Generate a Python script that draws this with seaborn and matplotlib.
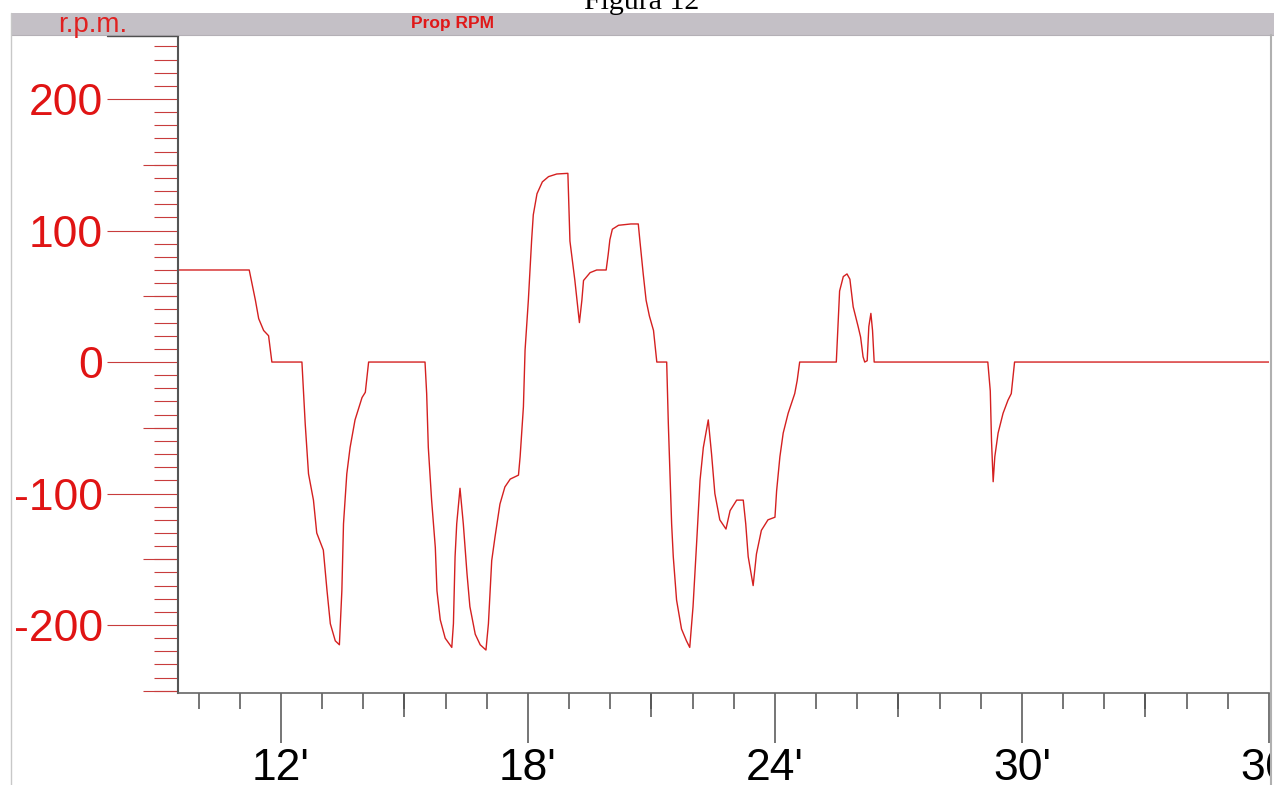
import matplotlib
matplotlib.use("Agg")
import matplotlib.pyplot as plt
from matplotlib.patches import Rectangle
from matplotlib.lines import Line2D
from matplotlib.ticker import MultipleLocator, FixedLocator
import seaborn as sns
import pandas as pd

# Propeller speed over time (minutes, r.p.m.)
minutes = [
    9.5, 11.23, 11.38, 11.46, 11.58, 11.70, 11.78, 12.51, 12.59, 12.67,
    12.79, 12.87, 13.03, 13.12, 13.20, 13.32, 13.42, 13.48, 13.52, 13.60,
    13.68, 13.80, 13.97, 14.05, 14.13, 15.50, 15.54, 15.58, 15.66, 15.75,
    15.79, 15.87, 15.99, 16.15, 16.19, 16.23, 16.27, 16.35, 16.43, 16.52,
    16.59, 16.72, 16.84, 16.98, 17.04, 17.12, 17.20, 17.32, 17.44, 17.57,
    17.77, 17.81, 17.89, 17.93, 18.01, 18.09, 18.13, 18.22, 18.35, 18.50,
    18.70, 18.97, 19.02, 19.14, 19.25, 19.31, 19.35, 19.51, 19.67, 19.90,
    19.95, 19.99, 20.05, 20.20, 20.50, 20.68, 20.72, 20.80, 20.87, 20.95,
    21.05, 21.13, 21.37, 21.41, 21.45, 21.49, 21.53, 21.61, 21.73, 21.85,
    21.93, 22.01, 22.10, 22.18, 22.26, 22.38, 22.46, 22.54, 22.66, 22.81,
    22.91, 23.07, 23.23, 23.29, 23.35, 23.47, 23.55, 23.67, 23.83, 24.00,
    24.04, 24.12, 24.20, 24.32, 24.48, 24.54, 24.60, 25.49, 25.57, 25.66,
    25.75, 25.82, 25.90, 26.02, 26.08, 26.14, 26.18, 26.24, 26.28, 26.33,
    26.37, 26.41, 29.17, 29.23, 29.26, 29.30, 29.34, 29.42, 29.54, 29.66,
    29.74, 29.82, 36.0,
]
prop_rpm = [
    70, 70, 47, 33, 24, 20, 0, 0, -47, -85,
    -105, -130, -143, -174, -199, -212, -215, -174, -123, -85,
    -65, -44, -27, -23, 0, 0, -24, -65, -105, -141,
    -174, -196, -210, -217, -199, -148, -123, -96, -123, -161,
    -186, -207, -215, -219, -199, -151, -133, -108, -95, -89,
    -86, -72, -34, 9, 47, 93, 112, 128, 137, 141,
    143, 143.5, 92, 62, 30, 47, 62, 68, 70, 70,
    82, 93, 101, 104, 105, 105, 92, 67, 47, 35,
    24, 0, 0, -47, -85, -123, -148, -181, -203, -212,
    -217, -186, -136, -90, -65, -44, -70, -100, -120, -127,
    -113, -105, -105, -123, -148, -170, -146, -128, -120, -118,
    -98, -72, -54, -39, -24, -14, 0, 0, 54, 65,
    67, 63, 42, 27, 19, 4, 0, 1, 27, 37,
    24, 0, 0, -22, -60, -91, -72, -54, -39, -29,
    -24, 0, 0,
]

y_major = [-200, -100, 0, 100, 200]
y_major_labels = ["-200", "-100", "0", "100", "200"]
y_mid = [-250, -150, -50, 50, 150]
x_major = [12, 18, 24, 30, 36]
x_major_labels = ["12'", "18'", "24'", "30'", "36'"]
x_mid = [15, 21, 27, 33]

sns.set_style("white")
plt.rcParams["font.family"] = ["Liberation Sans", "DejaVu Sans"]

W, H = 1274, 785
fig = plt.figure(figsize=(W / 100, H / 100), dpi=100)
fig.patch.set_facecolor("white")

ax_left, ax_right, ax_top, ax_bottom = 178, 1269, 35, 692.5
ax = fig.add_axes([ax_left / W, (H - ax_bottom) / H,
                   (ax_right - ax_left) / W, (ax_bottom - ax_top) / H])

df = pd.DataFrame({"minutes": minutes, "rpm": prop_rpm})
sns.lineplot(data=df, x="minutes", y="rpm", ax=ax, color="#d42020",
             linewidth=1.0, estimator=None, sort=False)

ax.set_xlim(9.5, 36.0)
ax.set_ylim(-251.3, 248.7)
ax.set_xlabel("")
ax.set_ylabel("")

for side in ("top", "right"):
    ax.spines[side].set_visible(False)
ax.spines["left"].set_color("#555555")
ax.spines["left"].set_linewidth(1.5)
ax.spines["bottom"].set_color("#666666")
ax.spines["bottom"].set_linewidth(1.2)

red_tick = "#c83c3c"
px = 72 / 100  # points per pixel

ax.tick_params(which="both", left=True, bottom=True, top=False, right=False)

# y axis: long ticks every 100, short every 10
ax.yaxis.set_major_locator(FixedLocator(y_major))
ax.set_yticklabels(y_major_labels)
ax.yaxis.set_minor_locator(MultipleLocator(10))
ax.tick_params(axis="y", which="major", direction="out", length=71 * px,
               width=0.8, color=red_tick, labelcolor="#e01414",
               labelsize=32, pad=3)
ax.tick_params(axis="y", which="minor", direction="out", length=24 * px,
               width=0.8, color=red_tick)

# x axis: long ticks every 6 min, short every minute
ax.xaxis.set_major_locator(FixedLocator(x_major))
ax.set_xticklabels(x_major_labels)
ax.xaxis.set_minor_locator(MultipleLocator(1))
ax.tick_params(axis="x", which="major", direction="out", length=49.5 * px,
               width=1.1, color="#505050", labelcolor="black",
               labelsize=32, pad=4)
ax.tick_params(axis="x", which="minor", direction="out", length=16 * px,
               width=1.1, color="#505050")

# medium ticks at the half-steps
sec_y = ax.secondary_yaxis("left")
sec_y.yaxis.set_major_locator(FixedLocator(y_mid))
sec_y.tick_params(axis="y", left=True, length=35 * px, width=0.8,
                  color=red_tick, labelleft=False)
sec_y.spines["left"].set_visible(False)

sec_x = ax.secondary_xaxis("bottom")
sec_x.xaxis.set_major_locator(FixedLocator(x_mid))
sec_x.tick_params(axis="x", bottom=True, length=24 * px, width=1.1,
                  color="#505050", labelbottom=False)
sec_x.spines["bottom"].set_visible(False)

# window frame: title strip and borders
def fx(x):
    return x / W

def fy(y):
    return (H - y) / H

fig.add_artist(Rectangle((fx(11), fy(35)), fx(W) - fx(11), fy(13) - fy(35),
                         transform=fig.transFigure, facecolor="#c4c0c6",
                         edgecolor="none", zorder=20))
fig.add_artist(Line2D([fx(11), fx(W)], [fy(35), fy(35)],
                      transform=fig.transFigure, color="#b4b0b6",
                      linewidth=0.8, zorder=21))
fig.add_artist(Line2D([fx(107), fx(178)], [fy(35.5), fy(35.5)],
                      transform=fig.transFigure, color="#505050",
                      linewidth=1.0, zorder=21))
fig.add_artist(Line2D([fx(11), fx(11)], [fy(13), fy(H)],
                      transform=fig.transFigure, color="#c8c8c8",
                      linewidth=1.0, zorder=21))
fig.add_artist(Rectangle((fx(1271), 0), fx(W) - fx(1271), fy(35),
                         transform=fig.transFigure, facecolor="white",
                         edgecolor="none", zorder=20))
fig.add_artist(Line2D([fx(1270.5), fx(1270.5)], [fy(35), fy(H)],
                      transform=fig.transFigure, color="#b0b0b0",
                      linewidth=1.5, zorder=21))

fig.text(fx(93), fy(32), "r.p.m.", color="#e02020", fontsize=20,
         ha="center", va="baseline", zorder=22)
fig.text(fx(411), fy(28.3), "Prop RPM", color="#e01818", fontsize=12.5,
         fontweight="bold", ha="left", va="baseline", zorder=22)
fig.text(fx(642), fy(9), "Figura 12", color="black", fontsize=21.5,
         family=["Liberation Serif", "DejaVu Serif"], ha="center",
         va="baseline", zorder=22)

fig.savefig("out.png", dpi=100)
